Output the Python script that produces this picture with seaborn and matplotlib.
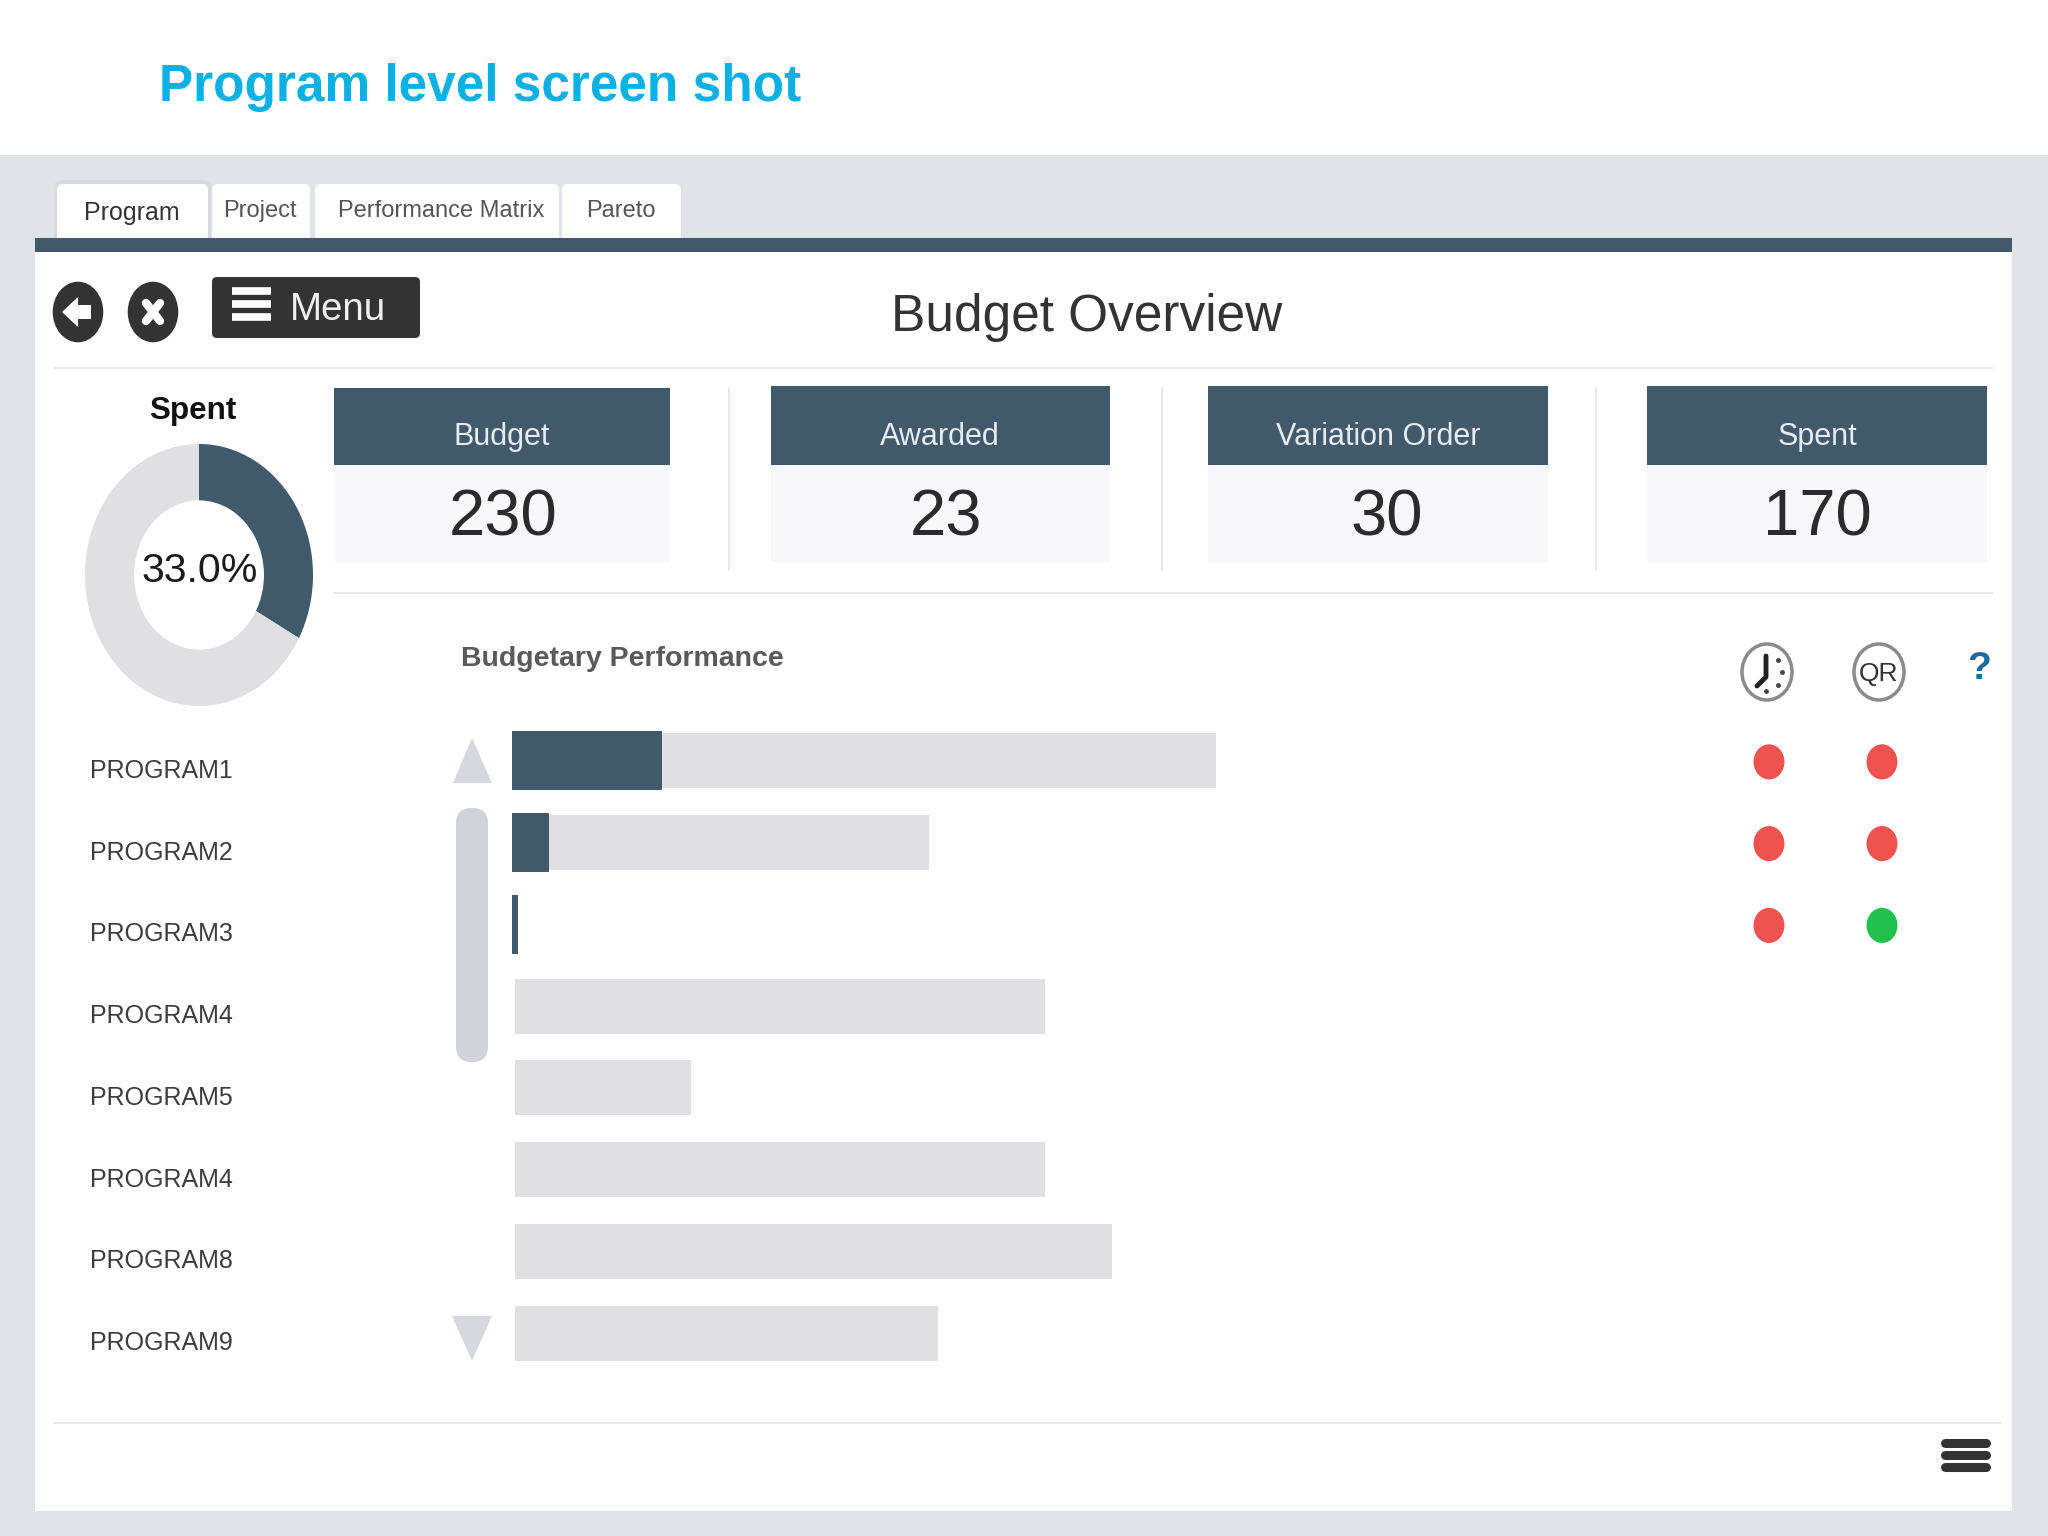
import numpy as np
import pandas as pd
import matplotlib
matplotlib.use("Agg")
import matplotlib.pyplot as plt
from matplotlib.patches import Rectangle, Ellipse, FancyBboxPatch, Polygon
from matplotlib.path import Path
from matplotlib.transforms import Affine2D, ScaledTranslation
import seaborn as sns

# ---- data ----
program_labels = ["PROGRAM1", "PROGRAM2", "PROGRAM3", "PROGRAM4",
                  "PROGRAM5", "PROGRAM4", "PROGRAM8", "PROGRAM9"]
budget_values = [100.0, 59.2, 0.0, 75.7, 25.4, 75.7, 85.2, 60.5]
spent_values = [21.3, 5.3, 0.9, 0.0, 0.0, 0.0, 0.0, 0.0]
time_status = ["red", "red", "red"]
qr_status = ["red", "red", "green"]
donut_values = [33.0, 67.0]
card_titles = ["Budget", "Awarded", "Variation Order", "Spent"]
card_values = ["230", "23", "30", "170"]
tab_names = ["Program", "Project", "Performance Matrix", "Pareto"]

DARK = "#40596b"
BAR_GREY = "#e0dfe2"
PANEL_GREY = "#e0e4e8"
LINE = "#e9eaec"
W, H = 2048, 1536

sns.set_theme(style="white")
plt.rcParams["font.family"] = ["Liberation Sans", "DejaVu Sans"]

fig = plt.figure(figsize=(W / 100, H / 100), dpi=100, facecolor="white")


def px_axes(x0, x1, ytop, ybot, z=2):
    ax = fig.add_axes([x0 / W, 1 - ybot / H, (x1 - x0) / W, (ybot - ytop) / H], zorder=z)
    ax.patch.set_alpha(0)
    return ax


# background / decoration layer in pixel coordinates
bg = fig.add_axes([0, 0, 1, 1], zorder=0)
bg.set_xlim(0, W)
bg.set_ylim(H, 0)
bg.axis("off")


def rect(x0, y0, x1, y1, color, z=1, **kw):
    bg.add_patch(Rectangle((x0, y0), x1 - x0, y1 - y0, facecolor=color, edgecolor="none", zorder=z, **kw))


def rrect(x0, y0, x1, y1, color, r=6, z=2):
    bg.add_patch(FancyBboxPatch((x0 + r, y0 + r), x1 - x0 - 2 * r, y1 - y0 - 2 * r,
                                boxstyle=f"round,pad={r},rounding_size={r}",
                                facecolor=color, edgecolor="none", zorder=z))


rect(0, 155, W, H, PANEL_GREY)
rect(35, 238, 2012, 1511, "#fefefe", z=1.1)
rect(35, 238, 2012, 252, DARK, z=3)

bg.text(159, 88, "Program level screen shot", fontweight="bold",
        fontsize=37, color="#0bb1e3", ha="left", va="center")

# tabs
tab_boxes = [(57, 208), (212, 310), (315, 559), (562, 681)]
tab_text_x = [132, 260, 441, 621]
rrect(54, 180, 211, 244, "#d8dbde", r=8, z=1.5)
for (x0, x1), tx, name, i in zip(tab_boxes, tab_text_x, tab_names, range(4)):
    rrect(x0, 184, x1, 246, "white", r=6, z=2)
    bg.text(tx, 213 if i == 0 else 211, name, fontsize=18 if i == 0 else 17,
            color="#333333" if i == 0 else "#555555", ha="center", va="center", zorder=4)

# back / close / menu
bg.add_patch(Ellipse((78, 312), 52, 62, facecolor="#333333", zorder=3))
bg.add_patch(Polygon([[62, 312], [78, 297], [78, 305], [91, 305], [91, 319], [78, 319], [78, 327]],
                     facecolor="white", edgecolor="none", zorder=4))
bg.add_patch(Ellipse((153, 312), 52, 62, facecolor="#333333", zorder=3))
bg.plot([146, 160], [303, 321], color="white", lw=6, solid_capstyle="round", zorder=4)
bg.plot([160, 146], [303, 321], color="white", lw=6, solid_capstyle="round", zorder=4)
rrect(212, 277, 420, 338, "#333333", r=5, z=3)
for yy in (291, 304, 317):
    bg.plot([232, 271], [yy, yy], color="white", lw=5.5, solid_capstyle="butt", zorder=4)
bg.text(290, 310, "Menu", fontsize=27.7, color="#f0f0f0", ha="left", va="center", zorder=4)

bg.text(1087, 317, "Budget Overview", fontsize=37, color="#333333",
        ha="center", va="center", zorder=4)
bg.plot([54, 1992], [368, 368], color=LINE, lw=1.5, zorder=2)

# donut
bg.text(193, 411, "Spent", fontweight="bold", fontsize=22.6, color="#111111",
        ha="center", va="center", zorder=4)
ax_d = px_axes(85, 313, 444, 706)
ax_d.pie(donut_values, colors=[DARK, BAR_GREY], startangle=90, counterclock=False,
         radius=1, wedgeprops=dict(width=0.43, linewidth=0))
ax_d.set_aspect("auto")
ax_d.set_xlim(-1, 1)
ax_d.set_ylim(-1, 1)
ax_d.text(0.01, 0.03, f"{donut_values[0]:.1f}%", fontsize=29.6, color="#1c1c1c",
          ha="center", va="center")

# cards
card_boxes = [(334, 670, 388), (771, 1110, 386), (1208, 1548, 386), (1647, 1987, 386)]
title_x = [502, 940, 1378, 1817]
value_x = [503, 946, 1387, 1817]
for (x0, x1, y0), t, v, tx, vx in zip(card_boxes, card_titles, card_values, title_x, value_x):
    rect(x0, y0, x1, 465, DARK, z=2)
    rect(x0, 465, x1, 562, "#f8f8fa", z=2)
    bg.text(tx, 437, t, fontsize=22, color="#e8ecef", ha="center", va="center", zorder=4)
    bg.text(vx, 518, v, fontsize=47, color="#2b2b2b", ha="center", va="center", zorder=4)
for xx in (729, 1162, 1596):
    bg.plot([xx, xx], [388, 570], color=LINE, lw=1.5, zorder=2)
bg.plot([334, 1992], [593, 593], color=LINE, lw=1.5, zorder=2)

bg.text(461, 659, "Budgetary Performance", fontweight="bold", fontsize=20.5,
        color="#5a5a5a", ha="left", va="center", zorder=4)

# scroll widgets
bg.add_patch(Polygon([[453, 783], [492, 783], [472, 738]], facecolor="#d6d8df", edgecolor="none", zorder=3))
bg.add_patch(Polygon([[452, 1316], [492, 1316], [472, 1361]], facecolor="#d6d8df", edgecolor="none", zorder=3))
rrect(456, 808, 488, 1062, "#d2d3d9", r=15.5, z=3)

# budget bars
frame = pd.DataFrame({"slot": range(len(program_labels)),
                      "budget": budget_values, "spent": spent_values})
ax_b = px_axes(512, 2000, 720, 1374, z=3)
sns.barplot(data=frame, y="slot", x="budget", orient="y", color=BAR_GREY, width=0.67,
            saturation=1, ax=ax_b, linewidth=0)
for patch in ax_b.patches[3:]:          # lower rows begin a touch to the right
    patch.set_x(0.4)
    patch.set_width(patch.get_width() - 0.4)
sns.barplot(data=frame, y="slot", x="spent", orient="y", color=DARK, width=0.72,
            saturation=1, ax=ax_b, linewidth=0)
ax_b.set_xlim(0, 1488 / 7.04)
ax_b.set_ylim(7.5, -0.5)
ax_b.set_xlabel("")
ax_b.set_ylabel("")
ax_b.set_xticks([])
ax_b.set_yticks(range(len(program_labels)), program_labels)
ax_b.tick_params(axis="y", length=0, pad=(512 - 90) * 0.72)
for lab in ax_b.get_yticklabels():
    lab.set_ha("left")
    lab.set_fontsize(18)
    lab.set_color("#3d3d3d")
    lab.set_transform(lab.get_transform() + ScaledTranslation(0, -7.5 / 100, fig.dpi_scale_trans))
for s in ax_b.spines.values():
    s.set_visible(False)

# status dots
status = pd.DataFrame({
    "col": [0] * len(time_status) + [1] * len(qr_status),
    "row": list(range(len(time_status))) + list(range(len(qr_status))),
    "state": time_status + qr_status,
})
oval = Path(Affine2D().scale(0.88, 1.0).transform(Path.unit_circle().vertices), Path.unit_circle().codes)
ax_s = px_axes(1712.5, 1938.5, 721, 1375, z=3)
sns.scatterplot(data=status, x="col", y="row", hue="state",
                palette={"red": "#ef5350", "green": "#22c04f"},
                marker=oval, s=640, linewidth=0, legend=False, ax=ax_s)
ax_s.set_xlim(-0.5, 1.5)
ax_s.set_ylim(7.5, -0.5)
ax_s.axis("off")

# header icons
for cx in (1767, 1879):
    bg.add_patch(Ellipse((cx, 672), 50, 56, facecolor="white", edgecolor="#8a8a8a", lw=2.5, zorder=3))
bg.plot([1766, 1766, 1757], [656, 677, 686], color="#222222", lw=3.5, zorder=4)
for dx, dy in [(1778, 660), (1782, 672), (1778, 685), (1766, 691)]:
    bg.plot([dx], [dy], "o", ms=2.5, color="#444444", zorder=4)
bg.text(1879, 674, "QR", fontsize=19, color="#333333", ha="center", va="center", zorder=4)
bg.text(1979, 669, "?", fontsize=28, fontweight="bold", color="#1d6a9c", ha="center", va="center", zorder=4)

# footer
bg.plot([54, 2000], [1423, 1423], color=LINE, lw=1.5, zorder=2)
for yy in (1443, 1455, 1467):
    bg.plot([1945, 1986], [yy, yy], color="#333333", lw=6.5, solid_capstyle="round", zorder=4)

fig.savefig("out.png", dpi=100)
